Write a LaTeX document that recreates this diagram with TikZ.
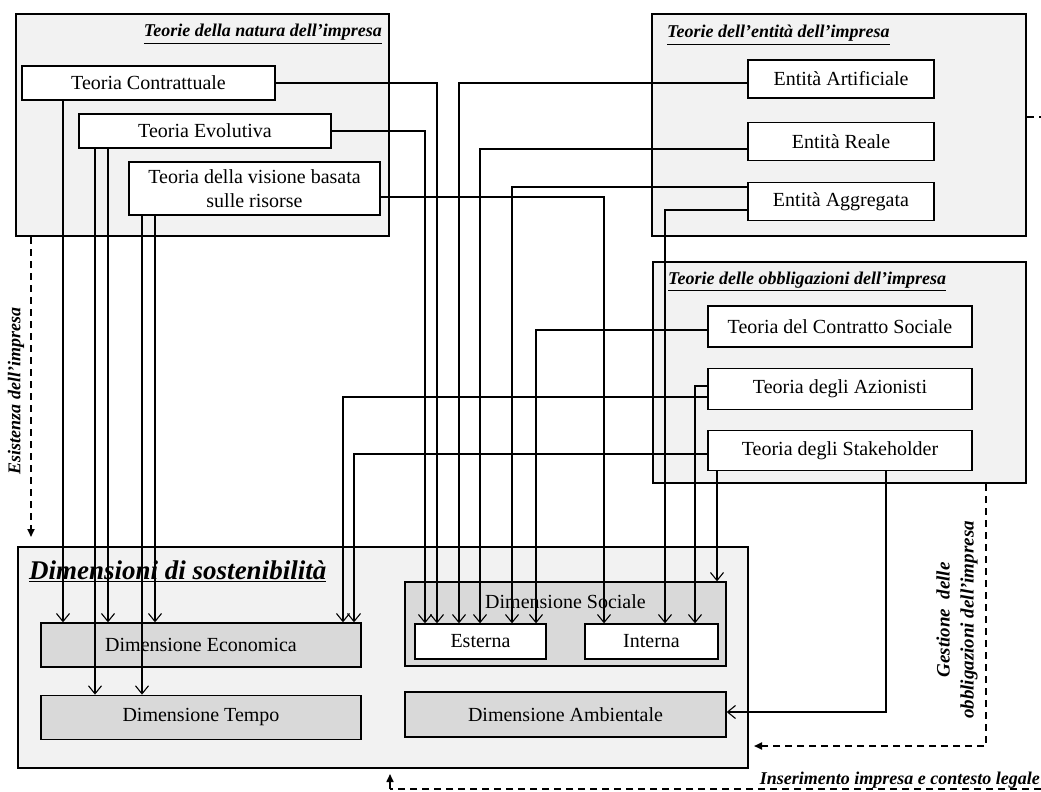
\documentclass[tikz,border=0pt]{standalone}
\usepackage{fontspec}
\setmainfont{Liberation Serif}
\usepackage{tikz}
\usetikzlibrary{arrows.meta, positioning}
\definecolor{framefill}{HTML}{F2F2F2}
\definecolor{dimfill}{HTML}{D9D9D9}
\newcommand{\ttlul}[1]{\vtop{\hbox{#1}\kern1.8pt\hrule height 1.3pt}}

\begin{document}
\begin{tikzpicture}[
  x=1pt, y=-1pt,
  font=\fontsize{20}{24}\selectfont,
  frame/.style={draw, line width=2pt, fill=framefill, inner sep=0pt},
  tbox/.style={draw, line width=1.3pt, fill=white, inner sep=0pt, align=center},
  dimbox/.style={draw, line width=1.3pt, fill=dimfill, inner sep=0pt},
  ttl/.style={font=\fontsize{18}{22}\selectfont\bfseries\itshape, inner sep=0pt},
  ar/.style={-{Straight Barb[length=8pt,width=13pt]}, line width=1.1pt},
  dline/.style={dash pattern=on 7pt off 5pt, line width=1.8pt},
  dashar/.style={dline, -{Triangle[length=8pt,width=7pt]}},
  note/.style={font=\fontsize{18}{25}\selectfont\bfseries\itshape, align=center, inner sep=0pt}
]
\useasboundingbox (0,0) rectangle (1041,792);

% teorie della natura
\node[frame, minimum width=373pt, minimum height=222pt] (natura) at (202.5,125) {};
\node[ttl, anchor=base east] (natTtl) at (382,37) {\ttlul{Teorie della natura dell’impresa}};
\node[tbox, minimum width=253pt, minimum height=34pt] (contr) at (148.5,83) {Teoria Contrattuale};
\node[tbox, minimum width=252pt, minimum height=34pt] (evol) at (205,131) {Teoria Evolutiva};
\node[tbox, minimum width=251pt, minimum height=53pt] (visione) at (254.5,188.5) {Teoria della visione basata\\sulle risorse};

% teorie dell'entita
\node[frame, minimum width=374pt, minimum height=222pt] (entita) at (839,125) {};
\node[ttl, anchor=base west] (entTtl) at (667,38) {\ttlul{Teorie dell’entità dell’impresa}};
\node[tbox, minimum width=186pt, minimum height=38pt] (artif) at (841,79) {Entità Artificiale};
\node[tbox, minimum width=186pt, minimum height=38pt, below=23pt of artif] (reale) {Entità Reale};
\node[tbox, minimum width=186pt, minimum height=38pt, below=21pt of reale] (aggreg) {Entità Aggregata};

% teorie delle obbligazioni
\node[frame, minimum width=373pt, minimum height=221pt] (obblig) at (839.5,372.5) {};
\node[ttl, anchor=base west] (oblTtl) at (668,284) {\ttlul{Teorie delle obbligazioni dell’impresa}};
\node[tbox, minimum width=264pt, minimum height=41pt] (contratto) at (840,326.5) {Teoria del Contratto Sociale};
\node[tbox, minimum width=264pt, minimum height=41pt, below=20pt of contratto] (azion) {Teoria degli Azionisti};
\node[tbox, minimum width=264pt, minimum height=40pt, below=20pt of azion] (stake) {Teoria degli Stakeholder};

% dimensioni
\node[frame, minimum width=730pt, minimum height=221pt] (sost) at (383,657.5) {};
\node[anchor=base west, inner sep=0pt, font=\fontsize{27}{32}\selectfont\bfseries\itshape] (sostTtl) at (29,579) {\ttlul{Dimensioni di sostenibilità}};
\node[dimbox, minimum width=320pt, minimum height=44pt] (econ) at (201,645) {Dimensione Economica};
\node[dimbox, minimum width=320pt, minimum height=44pt, below=27pt of econ] (tempo) {Dimensione Tempo};
\node[dimbox, minimum width=321pt, minimum height=84pt] (sociale) at (565.5,624) {};
\node[inner sep=0pt] (socLbl) at (565.5,602) {Dimensione Sociale};
\node[tbox, minimum width=131pt, minimum height=35pt] (esterna) at (480.5,641.5) {Esterna};
\node[tbox, minimum width=133pt, minimum height=35pt] (interna) at (651.5,641.5) {Interna};
\node[dimbox, minimum width=321pt, minimum height=45pt] (ambient) at (565.5,714.5) {Dimensione Ambientale};

% connettori
\draw[ar] (contr.east) -- (437,0 |- contr.east) -- (esterna.north -| 437,0);
\draw[ar] (contr.south -| 63,0) -- (econ.north -| 63,0);
\draw[ar] (evol.east) -- (425,0 |- evol.east) -- (esterna.north -| 425,0);
\draw[ar] (evol.south -| 95,0) -- (tempo.north -| 95,0);
\draw[ar] (evol.south -| 108,0) -- (econ.north -| 108,0);
\draw[ar] (visione.east |- 0,197) -- (604,197) -- (interna.north -| 604,0);
\draw[ar] (visione.south -| 142,0) -- (tempo.north -| 142,0);
\draw[ar] (visione.south -| 155,0) -- (econ.north -| 155,0);
\draw[ar] (artif.west |- 0,83) -- (459,83) -- (esterna.north -| 459,0);
\draw[ar] (reale.west |- 0,149) -- (480,149) -- (esterna.north -| 480,0);
\draw[ar] (aggreg.west |- 0,187) -- (512,187) -- (esterna.north -| 512,0);
\draw[ar] (aggreg.west |- 0,210) -- (665,210) -- (interna.north -| 665,0);
\draw[ar] (contratto.west |- 0,330) -- (536,330) -- (esterna.north -| 536,0);
\draw[ar] (azion.west |- 0,397) -- (343,397) -- (econ.north -| 343,0);
\draw[ar] (azion.west |- 0,386) -- (695,386) -- (interna.north -| 695,0);
\draw[ar] (stake.west |- 0,454) -- (354,454) -- (econ.north -| 354,0);
\draw[ar] (stake.south -| 717,0) -- (sociale.north -| 717,0);
\draw[ar] (stake.south -| 886,0) -- (886,712) -- (ambient.east |- 0,712);

% relazioni tratteggiate
\coordinate (rightTop) at (1041,117);
\coordinate (rightBot) at (1041,789);
\coordinate (insCorner) at (390,789);
\draw[dline] (entita.east |- rightTop) -- (rightTop);
\draw[dashar, shorten >=9pt] (natura.south -| 31,0) -- (sost.north -| 31,0);
\draw[dashar, shorten >=5pt] (obblig.south -| 986,0) -- (986,746) -- (sost.east |- 0,746);
\draw[dline] (rightBot) -- (insCorner);
\draw[line width=1.6pt, -{Triangle[length=8pt,width=7pt]}, shorten >=5pt] (insCorner) -- (sost.south -| insCorner);

\node[note, rotate=90] (esistLbl) at (16,391) {Esistenza dell’impresa};
\node[note, rotate=90, font=\fontsize{19}{24}\selectfont\bfseries\itshape] (gestLbl) at (957,620) {Gestione\hspace{0.5em}delle\\obbligazioni dell’impresa};
\node[note, anchor=base east] (insLbl) at (1040,784) {Inserimento impresa e contesto legale};
\end{tikzpicture}
\end{document}
